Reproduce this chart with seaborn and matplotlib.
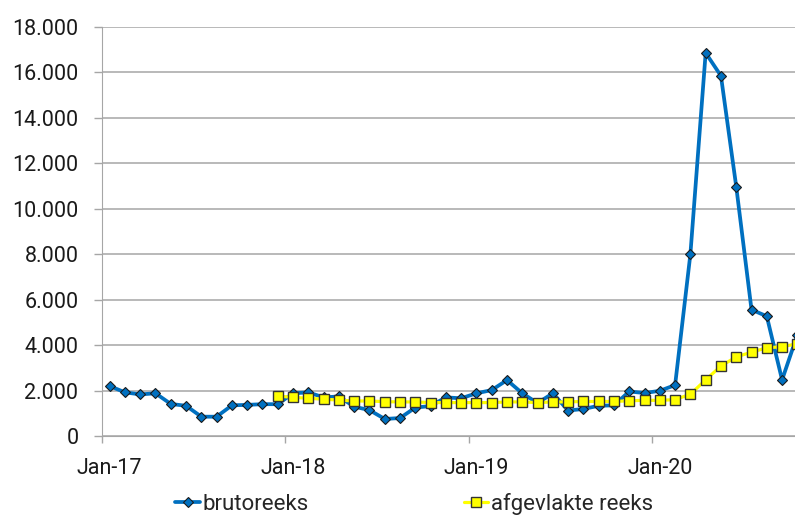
import numpy as np
import pandas as pd
import seaborn as sns
import matplotlib.pyplot as plt
from matplotlib.ticker import FuncFormatter, FixedLocator

# maandelijkse waarden, jan-17 t/m okt-20
bruto = [2200, 1920, 1830, 1880, 1410, 1330, 850, 850, 1350, 1370, 1400, 1400,
         1880, 1920, 1700, 1740, 1290, 1140, 750, 790, 1250, 1320, 1700, 1660,
         1880, 2020, 2460, 1880, 1450, 1880, 1120, 1190, 1330, 1350, 1960, 1890,
         1990, 2240, 8000, 16860, 15850, 10980, 5560, 5270, 2470, 4450]
afgevlakt = [np.nan] * 11 + [1760,
             1700, 1660, 1620, 1580, 1540, 1540, 1510, 1500, 1500, 1470, 1470, 1470,
             1470, 1470, 1500, 1500, 1470, 1500, 1500, 1520, 1520, 1520, 1550, 1570,
             1570, 1600, 1840, 2470, 3080, 3480, 3690, 3880, 3930, 4060]
jaar_labels = ["Jan-17", "Jan-18", "Jan-19", "Jan-20"]

df = pd.DataFrame({"maand": range(len(bruto)), "brutoreeks": bruto, "afgevlakte reeks": afgevlakt})

sns.set_style("white")
plt.rcParams['font.family'] = ['Roboto', 'DejaVu Sans']
fs = 15.5

fig = plt.figure(figsize=(7.95, 5.16), dpi=100)
ax = fig.add_axes([102 / 795, 80 / 516, 703 / 795, 409 / 516])

sns.lineplot(data=df, x="maand", y="brutoreeks", ax=ax, color="#0070C0", lw=2.7,
             marker="D", ms=5, mfc="#0070C0", mec="#1a1a1a", mew=0.8, label="brutoreeks")
sns.lineplot(data=df, x="maand", y="afgevlakte reeks", ax=ax, color="#FFFF00", lw=2.3,
             marker="s", ms=7, mfc="#FFFF00", mec="#333333", mew=1.0, label="afgevlakte reeks")

ax.set_xlim(-0.5, len(bruto) - 0.5)
ax.set_ylim(0, 18000)
ax.set_yticks(np.arange(0, 18001, 2000))
ax.yaxis.set_major_formatter(FuncFormatter(lambda v, p: f"{v:,.0f}".replace(",", ".")))
ax.grid(axis="y", color="#a6a6a6", lw=1.1)
ax.set_axisbelow(True)

# jaargrenzen als streepjes, labels op de januari-punten
ax.xaxis.set_major_locator(FixedLocator([-0.5, 11.5, 23.5, 35.5]))
ax.xaxis.set_minor_locator(FixedLocator([0, 12, 24, 36]))
ax.set_xticklabels([], minor=False)
ax.set_xticklabels(jaar_labels, minor=True)
ax.tick_params(axis="x", which="major", length=5, width=1, color="#a6a6a6", direction="out", bottom=True)
ax.tick_params(axis="x", which="minor", length=0, pad=16, labelsize=fs, labelcolor="#1a1a1a")
ax.tick_params(axis="y", length=6, width=1, color="#a6a6a6", direction="out", left=True,
               pad=11, labelsize=fs, labelcolor="#1a1a1a")

for s in ["top", "right"]:
    ax.spines[s].set_visible(False)
ax.spines["left"].set_color("#a6a6a6")
ax.spines["bottom"].set_color("#a6a6a6")
ax.set_xlabel("")
ax.set_ylabel("")

ax.legend(loc="center", bbox_to_anchor=(414 / 795, 12 / 516), bbox_transform=fig.transFigure,
          ncol=2, frameon=False, fontsize=fs + 0.5, handlelength=1.1, handletextpad=0.1,
          columnspacing=7.0, borderpad=0)

fig.savefig("out.png", dpi=100)
